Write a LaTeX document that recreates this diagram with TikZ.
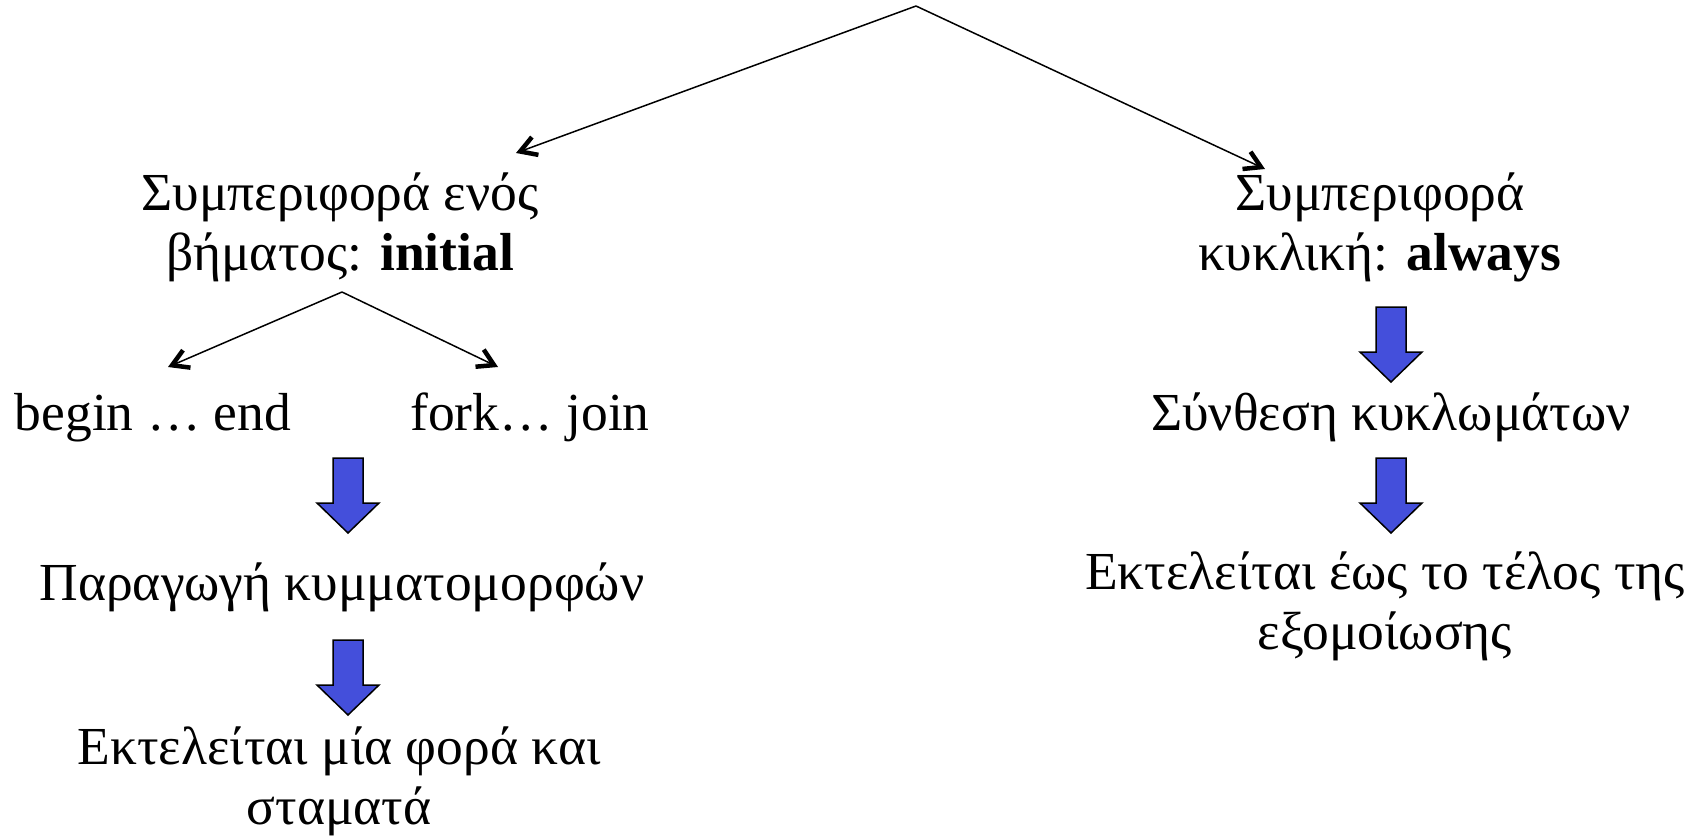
\documentclass[tikz,border=0pt]{standalone}
\usepackage{fontspec}
\setmainfont{Liberation Serif}
\usetikzlibrary{arrows.meta}
\definecolor{arrowblue}{RGB}{68,79,219}
\begin{document}
\begin{tikzpicture}[x=1pt,y=-1pt,
  lbl/.style={font=\fontsize{53.5}{60}\selectfont, align=center, anchor=base, inner sep=0pt},
  conn/.style={line width=1.5pt, -{Straight Barb[length=16pt,width=19pt,line width=4.5pt]}},
  blockarrow/.pic={\draw[fill=arrowblue, line width=1.5pt, line join=miter] (-15,0) -- (15,0) -- (15,45) -- (31,45) -- (0,75) -- (-31,45) -- (-15,45) -- cycle;}]
\path[use as bounding box] (0,0) rectangle (1695,838);
% connector end points
\coordinate (top) at (916,6);
\coordinate (tipL) at (516,153);
\coordinate (tipR) at (1265,169);
\coordinate (fork) at (342,292);
\coordinate (tipA) at (168,367);
\coordinate (tipB) at (498,367);
% texts
\node[lbl] (init) at (340,270) {Συμπεριφορά ενός\\βήματος: \textbf{initial}};
\node[lbl] (alw) at (1380,270) {Συμπεριφορά\\κυκλική: \textbf{always}};
\node[lbl] (be) at (153,430) {begin … end};
\node[lbl] (fj) at (530,430) {fork… join};
\node[lbl] (par) at (342,600) {Παραγωγή κυμματομορφών};
\node[lbl] (once) at (339,824) {Εκτελείται μία φορά και\\σταματά};
\node[lbl] (syn) at (1391,430) {Σύνθεση κυκλωμάτων};
\node[lbl] (sim) at (1385,649) {Εκτελείται έως το τέλος της\\εξομοίωσης};
% connectors
\draw[conn] (top) -- (tipL);
\draw[conn] (top) -- (tipR);
\draw[conn] (fork) -- (tipA);
\draw[conn] (fork) -- (tipB);
% block arrows
\pic at (348,458) {blockarrow};
\pic at (348,640) {blockarrow};
\pic at (1391,307) {blockarrow};
\pic at (1391,458) {blockarrow};
\end{tikzpicture}
\end{document}
